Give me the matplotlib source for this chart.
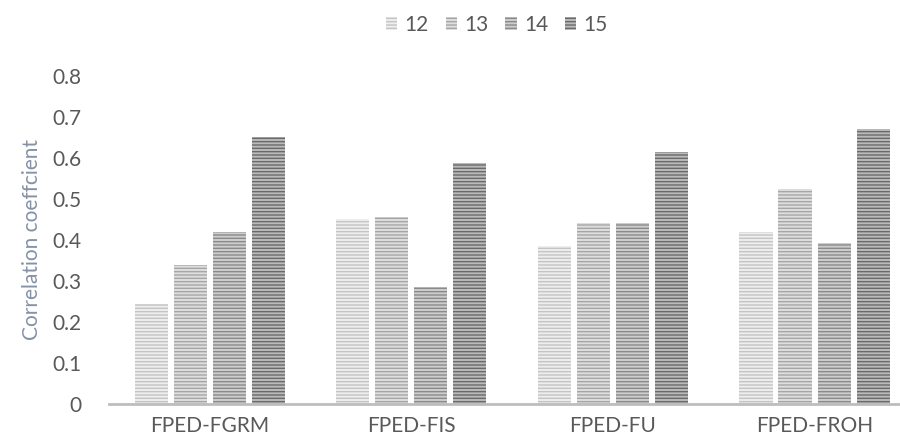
import numpy as np
import matplotlib
matplotlib.use("Agg")
import matplotlib.pyplot as plt
from matplotlib.patches import Patch

plt.rcParams["font.family"] = ["Lato", "DejaVu Sans"]
plt.rcParams["hatch.linewidth"] = 1.0

categories = ["FPED-FGRM", "FPED-FIS", "FPED-FU", "FPED-FROH"]
series = ["12", "13", "14", "15"]
values = {
    "12": [0.245, 0.452, 0.385, 0.419],
    "13": [0.339, 0.456, 0.442, 0.524],
    "14": [0.419, 0.286, 0.442, 0.393],
    "15": [0.652, 0.587, 0.615, 0.670],
}
face_colors = ["#eeeeee", "#dedede", "#cdcdcd", "#bababa"]
stripe_colors = ["#c4c4c4", "#a6a6a6", "#8a8a8a", "#6a6a6a"]
STRIPES = "-----"

fig = plt.figure(figsize=(9, 4.43), dpi=100)
ax = fig.add_axes([109 / 900, 39 / 443, 791 / 900, 328 / 443])

x = np.arange(len(categories))
step = 0.1935
width = 0.164
for i, s in enumerate(series):
    ax.bar(x + (i - 1.5) * step, values[s], width,
           color=face_colors[i], edgecolor=stripe_colors[i],
           linewidth=0, hatch=STRIPES)

ax.set_xlim(-0.5, 3.424)
ax.set_ylim(0, 0.8)
ax.set_yticks(np.arange(0, 0.81, 0.1))
ax.set_yticklabels(["0"] + [f"{v:.1f}" for v in np.arange(0.1, 0.81, 0.1)])
ax.set_xticks(x)
ax.set_xticklabels(categories)
ax.tick_params(axis="both", length=0, labelsize=15, colors="#595959")
ax.tick_params(axis="x", pad=9)
ax.tick_params(axis="y", pad=20)

for side in ["top", "right", "left"]:
    ax.spines[side].set_visible(False)
ax.spines["bottom"].set_color("#bdbdbd")
ax.spines["bottom"].set_linewidth(2)

ax.set_ylabel("Correlation coeffcient", fontsize=15, color="#8591a6",
              labelpad=7)

handles = [Patch(facecolor=face_colors[i], edgecolor=stripe_colors[i],
                 linewidth=0, hatch=STRIPES, label=s)
           for i, s in enumerate(series)]
fig.legend(handles=handles, loc="center", bbox_to_anchor=(497 / 900, 1 - 25 / 443),
           ncol=4, frameon=False, fontsize=15, handlelength=0.55,
           handleheight=0.55, handletextpad=0.35, columnspacing=0.8,
           labelcolor="#595959")

fig.savefig("out.png", dpi=100)
